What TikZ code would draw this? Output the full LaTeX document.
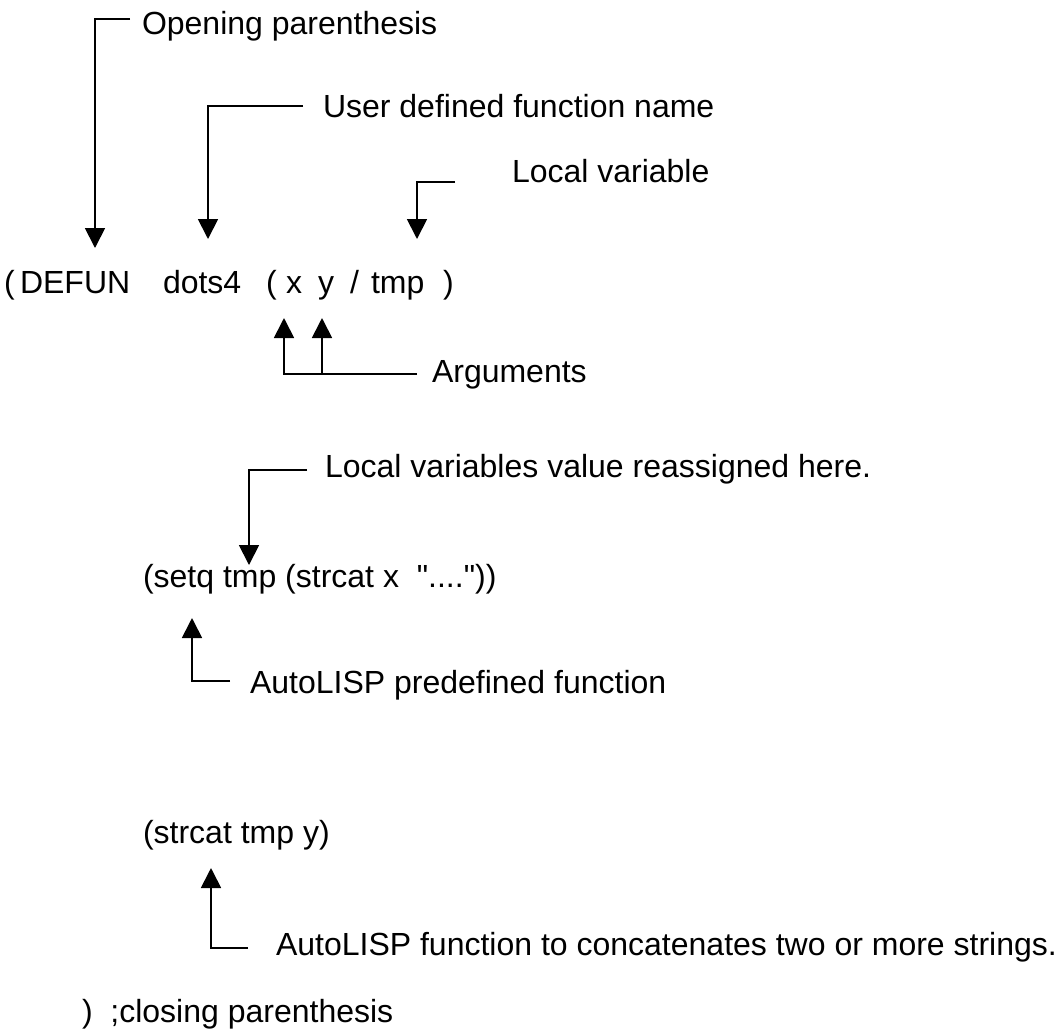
\documentclass[tikz,border=0pt]{standalone}
\usepackage{fontspec}
\setmainfont{Liberation Sans}
\newfontfamily\codefont{Liberation Sans}
\usepackage{tikz}
\usetikzlibrary{arrows.meta,positioning}

\begin{document}
\begin{tikzpicture}[
  x=0.5pt, y=-0.5pt,
  every node/.style={inner sep=0pt, outer sep=0pt, font=\fontsize{16}{19}\selectfont},
  code/.style={anchor=base west, font=\fontsize{16}{19}\codefont},
  note/.style={anchor=base west},
  arrow/.style={line width=0.9pt, -{Triangle[length=10pt,width=10pt]}}
]
\useasboundingbox (0,0) rectangle (1058,1034);

% Code lines
\node (lpar) [code] at (4,293) {(};
\node (defun) [code] at (20,293) {DEFUN};
\node (fname) [code] at (163,293) {dots4};
\node (lpartwo) [code] at (266,293) {(};
\node (argx) [code] at (286,293) {x};
\node (argy) [code] at (318,293) {y};
\node (slash) [code] at (350,293) {/};
\node (tmp) [code] at (371,293) {tmp};
\node (rpar) [code] at (443,293) {)};
\node (setq) [code] at (143,587) {(setq tmp (strcat x\ \ "....")) };
\node (strcat) [code] at (143,843) {(strcat tmp y)};
\node (close) [code] at (82,1022) {)\ \ ;closing parenthesis};

% Notes
\node (open) [note] at (142,34) {Opening parenthesis};
\node (user) [note] at (323,117) {User defined function name};
\node (local) [note] at (512,182) {Local variable};
\node (args) [note] at (432,382) {Arguments};
\node (reassign) [note] at (325,477) {Local variables value reassigned here.};
\node (predef) [note] at (250,693) {AutoLISP predefined function};
\node (concat) [note] at (276,955) {AutoLISP function to concatenates two or more strings.};

% Arrow tips
\coordinate (tipopen) at (95,248);
\coordinate (tipuser) at (208,239);
\coordinate (tiplocal) at (417,239);
\coordinate (tipx) at (284,318);
\coordinate (tipy) at (322,318);
\coordinate (forky) at (322,374);
\coordinate (tipreassign) at (249,565);
\coordinate (tippredef) at (192,618);
\coordinate (tipconcat) at (211,868);

% Connections
\draw [arrow] ([shift={(-6pt,7.5pt)}]open.base west) -| (tipopen);
\draw [arrow] ([shift={(-10pt,5.5pt)}]user.base west) -| (tipuser);
\draw [arrow] ([shift={(-28.5pt,0pt)}]local.base west) -| (tiplocal);
\draw [arrow] ([shift={(-7.5pt,4pt)}]args.base west) -| (tipx);
\draw [arrow] (forky) -- (tipy);
\draw [arrow] ([shift={(-9pt,3.5pt)}]reassign.base west) -| (tipreassign);
\draw [arrow] ([shift={(-10pt,6pt)}]predef.base west) -| (tippredef);
\draw [arrow] ([shift={(-14pt,3.5pt)}]concat.base west) -| (tipconcat);

\end{tikzpicture}
\end{document}
